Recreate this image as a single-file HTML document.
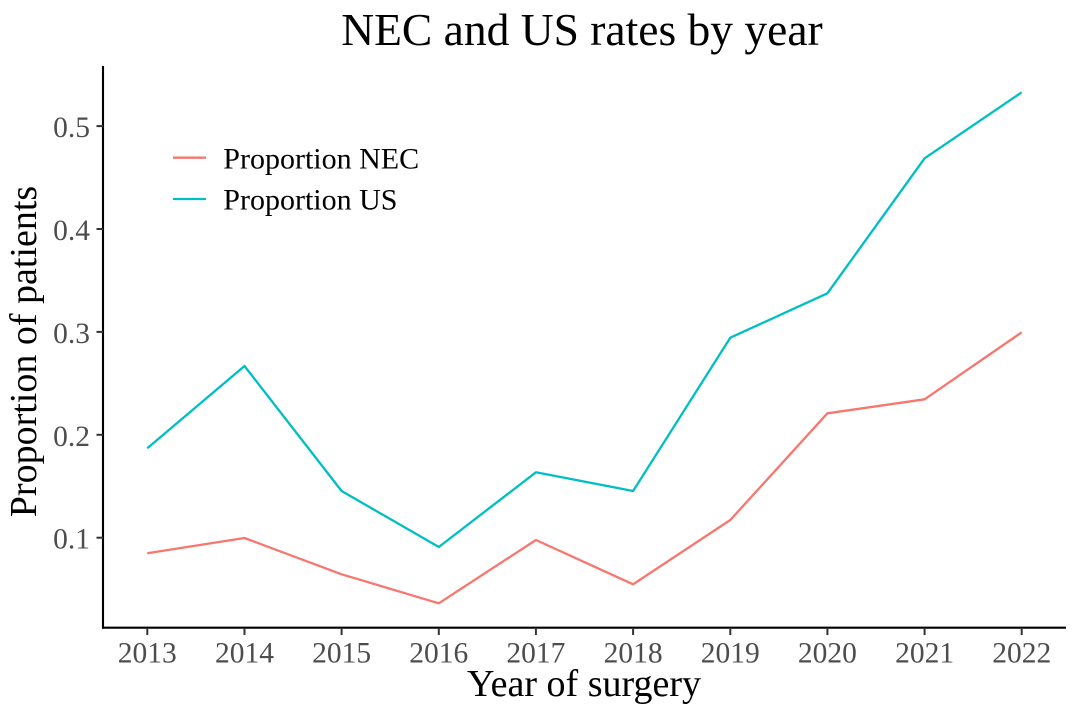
<!DOCTYPE html>
<html>
<head>
<meta charset="utf-8">
<style>
html,body{margin:0;padding:0;background:#fff;}
svg{display:block;}
text{font-family:"Liberation Serif","DejaVu Serif",serif;}
</style>
</head>
<body>
<svg width="1079" height="721" viewBox="0 0 1079 721" xmlns="http://www.w3.org/2000/svg">
<rect width="1079" height="721" fill="#fff"/>
<!-- title -->
<text x="582" y="45" font-size="45.5" text-anchor="middle" fill="#000">NEC and US rates by year</text>

<!-- series -->
<polyline fill="none" stroke="#00BFC4" stroke-width="2.3" stroke-linejoin="round"
 points="147.3,448.3 244.5,366 341.6,491 438.8,547 535.9,472.3 633.1,491 730.3,337.7 827.4,293.3 924.6,158.3 1021.7,92.3"/>
<polyline fill="none" stroke="#F8766D" stroke-width="2.3" stroke-linejoin="round"
 points="147.3,553.3 244.5,538 341.6,574.3 438.8,603.3 535.9,540 633.1,584.3 730.3,520 827.4,413.3 924.6,399.3 1021.7,332.3"/>

<!-- axes -->
<line x1="103" y1="66" x2="103" y2="628.7" stroke="#000" stroke-width="2.1"/>
<line x1="102" y1="627.7" x2="1066" y2="627.7" stroke="#000" stroke-width="2.1"/>

<!-- y ticks -->
<g stroke="#333" stroke-width="2">
<line x1="96.5" y1="126.1" x2="103" y2="126.1"/>
<line x1="96.5" y1="229" x2="103" y2="229"/>
<line x1="96.5" y1="331.9" x2="103" y2="331.9"/>
<line x1="96.5" y1="434.8" x2="103" y2="434.8"/>
<line x1="96.5" y1="537.7" x2="103" y2="537.7"/>
</g>
<g font-size="29.5" fill="#4D4D4D" text-anchor="end">
<text x="90" y="137">0.5</text>
<text x="90" y="240">0.4</text>
<text x="90" y="343">0.3</text>
<text x="90" y="446">0.2</text>
<text x="90" y="548.6">0.1</text>
</g>

<!-- x ticks -->
<g stroke="#333" stroke-width="2">
<line x1="147.3" y1="628" x2="147.3" y2="635"/>
<line x1="244.5" y1="628" x2="244.5" y2="635"/>
<line x1="341.6" y1="628" x2="341.6" y2="635"/>
<line x1="438.8" y1="628" x2="438.8" y2="635"/>
<line x1="535.9" y1="628" x2="535.9" y2="635"/>
<line x1="633.1" y1="628" x2="633.1" y2="635"/>
<line x1="730.3" y1="628" x2="730.3" y2="635"/>
<line x1="827.4" y1="628" x2="827.4" y2="635"/>
<line x1="924.6" y1="628" x2="924.6" y2="635"/>
<line x1="1021.7" y1="628" x2="1021.7" y2="635"/>
</g>
<g font-size="29.5" fill="#4D4D4D" text-anchor="middle">
<text x="147.3" y="662.3">2013</text>
<text x="244.5" y="662.3">2014</text>
<text x="341.6" y="662.3">2015</text>
<text x="438.8" y="662.3">2016</text>
<text x="535.9" y="662.3">2017</text>
<text x="633.1" y="662.3">2018</text>
<text x="730.3" y="662.3">2019</text>
<text x="827.4" y="662.3">2020</text>
<text x="924.6" y="662.3">2021</text>
<text x="1021.7" y="662.3">2022</text>
</g>

<!-- axis titles -->
<text x="584" y="696" font-size="38" text-anchor="middle" fill="#000">Year of surgery</text>
<text transform="translate(36,351.5) rotate(-90)" font-size="38" text-anchor="middle" fill="#000">Proportion of patients</text>

<!-- legend -->
<line x1="173" y1="157.7" x2="206" y2="157.7" stroke="#F8766D" stroke-width="2.3"/>
<line x1="173" y1="199" x2="206" y2="199" stroke="#00BFC4" stroke-width="2.3"/>
<text x="223.3" y="168.3" font-size="30" fill="#000">Proportion NEC</text>
<text x="223.3" y="209.3" font-size="30" fill="#000">Proportion US</text>
</svg>
</body>
</html>
